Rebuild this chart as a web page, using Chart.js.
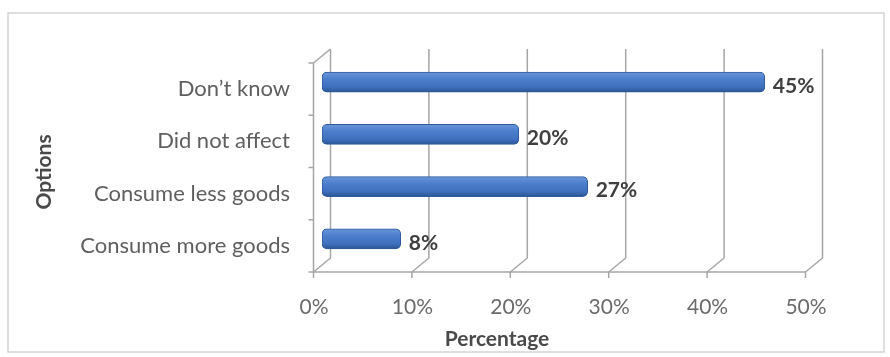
<!DOCTYPE html>
<html>
<head>
<meta charset="utf-8">
<script src="https://cdn.jsdelivr.net/npm/chart.js@4.4.1/dist/chart.umd.min.js"></script>
<style>
  html, body { margin: 0; padding: 0; background: #fff; }
  #wrap { width: 890px; height: 357px; }
</style>
</head>
<body>
<div id="wrap"><canvas id="chart" width="890" height="357"></canvas></div>
<script>
"use strict";

var categories = ["Don\u2019t know", "Did not affect", "Consume less goods", "Consume more goods"];
var percentages = [45, 20, 27, 8];
var xTicks = [0, 10, 20, 30, 40, 50];
var xTitle = "Percentage";
var yTitle = "Options";

var DEPTH_X = 8.5, DEPTH_Y = 7;
var FONT = "Lato, 'Open Sans', sans-serif";

var barFill = function(ctx) {
    var chart = ctx.chart;
    if (!chart.chartArea) return "#4a7cc8";
    var y = chart.scales.y.getPixelForValue(ctx.dataIndex);
    var g = chart.ctx.createLinearGradient(0, y - 10, 0, y + 10);
    g.addColorStop(0, "#6a96da");
    g.addColorStop(0.35, "#4b7ecc");
    g.addColorStop(0.75, "#3f70bd");
    g.addColorStop(1, "#2a5392");
    return g;
};

// 3d-ish walls, floor and grid like the office chart
var framePlugin = {
    id: "frame",
    beforeDatasetsDraw: function(chart) {
        var c = chart.ctx, xs = chart.scales.x, a = chart.chartArea;
        var n = categories.length;
        c.save();
        c.strokeStyle = "#a6a6a6";
        c.lineWidth = 1.5;
        // back wall grid lines with floor diagonals
        xTicks.forEach(function(v) {
            var x = xs.getPixelForValue(v);
            c.beginPath();
            c.moveTo(x + DEPTH_X, a.top - DEPTH_Y);
            c.lineTo(x + DEPTH_X, a.bottom - DEPTH_Y);
            c.lineTo(x - DEPTH_X, a.bottom + DEPTH_Y);
            c.lineTo(x - DEPTH_X, a.bottom + DEPTH_Y + 6);
            c.stroke();
        });
        // front floor edge
        c.beginPath();
        c.moveTo(xs.getPixelForValue(0) - DEPTH_X, a.bottom + DEPTH_Y);
        c.lineTo(xs.getPixelForValue(50) - DEPTH_X, a.bottom + DEPTH_Y);
        c.stroke();
        // side wall
        var x0 = xs.getPixelForValue(0);
        c.beginPath();
        c.moveTo(x0 - DEPTH_X, a.bottom + DEPTH_Y);
        c.lineTo(x0 - DEPTH_X, a.top + DEPTH_Y);
        c.lineTo(x0 + DEPTH_X, a.top - DEPTH_Y);
        c.stroke();
        for (var i = 0; i <= n; i++) {
            var y = a.top + DEPTH_Y + (a.bottom - a.top) * i / n;
            c.beginPath();
            c.moveTo(x0 - DEPTH_X - 5, y);
            c.lineTo(x0 - DEPTH_X, y);
            c.stroke();
        }
        c.restore();
    },
    afterDatasetsDraw: function(chart) {
        var c = chart.ctx;
        var meta = chart.getDatasetMeta(0);
        c.save();
        c.font = "bold 21px " + FONT;
        c.fillStyle = "#404040";
        c.textBaseline = "middle";
        c.textAlign = "left";
        meta.data.forEach(function(bar, i) {
            c.fillText(percentages[i] + "%", bar.x + 8, bar.y + 4);
        });
        c.restore();
    },
    afterDraw: function(chart) {
        var c = chart.ctx;
        c.save();
        c.strokeStyle = "#d4d4d4";
        c.lineWidth = 1.5;
        c.strokeRect(8, 13, 876, 339);
        c.fillStyle = "#4a4a4a";
        c.font = "bold 21px " + FONT;
        c.textAlign = "center";
        c.textBaseline = "middle";
        c.fillText(xTitle, 497, 339);
        c.translate(44, 172);
        c.rotate(-Math.PI / 2);
        c.fillText(yTitle, 0, 0);
        c.restore();
    }
};

new Chart(document.getElementById("chart"), {
    type: "bar",
    data: {
        labels: categories,
        datasets: [{
            data: percentages,
            backgroundColor: barFill,
            borderColor: "#2f5b9b",
            borderWidth: 1,
            borderRadius: 5,
            borderSkipped: false,
            barThickness: 20
        }]
    },
    options: {
        indexAxis: "y",
        responsive: false,
        animation: false,
        layout: { padding: { left: 20, top: 56, right: 76, bottom: 10 } },
        plugins: {
            legend: { display: false },
            tooltip: { enabled: false }
        },
        scales: {
            x: {
                min: 0,
                max: 50,
                afterFit: function(s) { s.height = 357 - 265 - 10; },
                afterBuildTicks: function(s) {
                    s.ticks = xTicks.map(function(v) { return { value: v }; });
                },
                grid: { display: false, drawTicks: false },
                border: { display: false },
                ticks: {
                    padding: 30,
                    labelOffset: -8,
                    color: "#6b6b6b",
                    font: { family: FONT, size: 21 },
                    callback: function(v) { return v + "%"; }
                }
            },
            y: {
                afterFit: function(s) { s.width = 322 - 20; },
                grid: { display: false, drawTicks: false },
                border: { display: false },
                ticks: {
                    padding: 32,
                    labelOffset: 7,
                    color: "#5f5f5f",
                    font: { family: FONT, size: 22 }
                }
            }
        }
    },
    plugins: [framePlugin]
});
</script>
</body>
</html>
